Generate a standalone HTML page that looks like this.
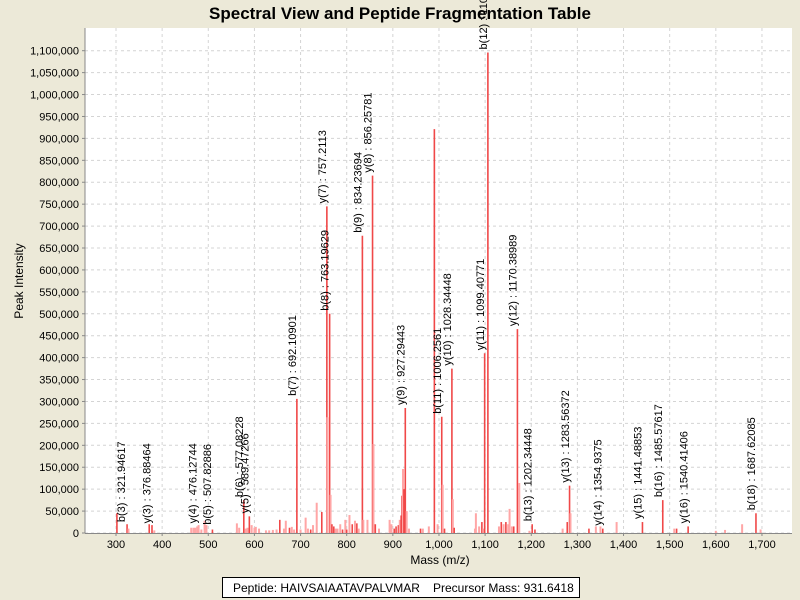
<!DOCTYPE html>
<html><head><meta charset="utf-8"><style>
body{margin:0;background:#ece9d8;}
svg{display:block;font-family:"Liberation Sans",Arial,sans-serif;}
</style></head><body>
<svg id="chart" width="800" height="600">
<rect x="0" y="0" width="800" height="600" fill="#ece9d8"/>
<text x="400" y="19" text-anchor="middle" font-size="17" font-weight="bold">Spectral View and Peptide Fragmentation Table</text>
<rect x="85" y="28" width="707" height="505" fill="#fff"/>
<g id="grid"></g><g id="peaks"></g><g id="axes"></g><g id="labels"></g>
<text transform="translate(23,281) rotate(-90)" text-anchor="middle" font-size="12">Peak Intensity</text>
<text x="440" y="564" text-anchor="middle" font-size="12">Mass (m/z)</text>
<g>
<rect x="222.5" y="577.5" width="357" height="20" fill="#fff" stroke="#000"/>
<text x="233" y="592" font-size="12">Peptide: HAIVSAIAATAVPALVMAR</text>
<text x="433" y="592" font-size="12">Precursor Mass: 931.6418</text>
</g>
</svg>
<script>
const xTicks=[300,400,500,600,700,800,900,1000,1100,1200,1300,1400,1500,1600,1700];
const yTicks=[0,50000,100000,150000,200000,250000,300000,350000,400000,450000,500000,550000,600000,650000,700000,750000,800000,850000,900000,950000,1000000,1050000,1100000];
const peakMz=[302,324,327,372,378,383,463,468,472,476,479,485,492,496,509,562,567,577,581,585,589,594,600,603,610,625,632,640,648,655,664,668,676,681,686,692,700,711,716,722,727,735,746,757,758,763,765,768,772,776,780,786,791,797,800,806,812,818,822,826,834,836,845,856,858,862,870,893,897,903,907,912,915,918,920,922,924,927,930,935,960,965,978,990,997,1006,1008,1012,1028,1030,1033,1078,1080,1087,1093,1096,1099,1106,1130,1135,1140,1145,1150,1153,1158,1162,1170,1174,1196,1202,1208,1268,1278,1283,1285,1325,1340,1350,1355,1385,1441,1485,1510,1515,1540,1600,1620,1657,1687,1697];
const peakInt=[45000,20000,10000,20000,18000,6000,12000,12000,12000,15000,18000,8000,28000,18000,8000,22000,12000,75000,10000,12000,38000,18000,12000,14000,10000,6000,6000,7000,8000,30000,10000,28000,12000,14000,8000,306000,8000,35000,10000,8000,18000,69000,48000,745000,264000,500000,87000,20000,15000,10000,10000,20000,8000,30000,8000,41000,20000,28000,22000,10000,678000,30000,30000,815000,203000,20000,10000,30000,20000,10000,15000,18000,30000,40000,85000,146000,100000,285000,50000,10000,10000,10000,15000,921000,20000,265000,110000,10000,375000,77000,12000,10000,45000,15000,25000,10000,410000,1096000,15000,25000,20000,25000,20000,55000,15000,15000,465000,114000,5000,20000,8000,10000,25000,108000,45000,10000,15000,15000,10000,25000,25000,75000,10000,10000,15000,5000,7000,20000,45000,8000];
const peakLight=[0,0,1,0,0,1,1,1,1,1,1,1,1,1,0,1,1,0,1,1,0,1,1,1,1,1,1,1,1,0,1,1,0,1,1,0,1,1,1,0,1,1,0,0,1,0,1,0,0,1,1,1,0,1,0,1,0,1,0,1,0,1,1,0,1,0,1,1,1,0,0,0,1,0,0,1,0,0,1,1,0,1,1,0,1,0,1,0,0,1,0,1,1,1,0,1,0,0,1,0,1,0,1,1,1,0,0,1,1,0,0,1,0,0,1,0,1,1,0,1,0,0,1,0,0,1,1,1,0,1];
const labelText=["b(3) : 321.94617","y(3) : 376.88464","y(4) : 476.12744","b(5) : 507.82886","b(6) : 577.08228","y(5) : 589.47266","b(7) : 692.10901","y(7) : 757.2113","b(8) : 763.19629","b(9) : 834.23694","y(8) : 856.25781","y(9) : 927.29443","b(11) : 1006.2561","y(10) : 1028.34448","y(11) : 1099.40771","b(12) : 1106.42163","y(12) : 1170.38989","b(13) : 1202.34448","y(13) : 1283.56372","y(14) : 1354.9375","y(15) : 1441.48853","b(16) : 1485.57617","y(16) : 1540.41406","b(18) : 1687.62085"];
const labelMz=[321.9,376.9,476.1,507.8,577.1,589.5,692.1,757.2,763.2,834.2,856.3,927.3,1006.3,1028.3,1099.4,1106.4,1170.4,1202.3,1283.6,1354.9,1441.5,1485.6,1540.4,1687.6];
const labelInt=[18000,15000,15000,12000,75000,38000,306000,745000,500000,678000,815000,285000,265000,375000,410000,1096000,465000,20000,108000,10000,25000,75000,15000,45000];
const NS='http://www.w3.org/2000/svg';
const X0=85,X1=792,Y0=533,Y1=28;
function xs(m){return 116+(m-300)*0.4614;}
function ys(v){return 533-v*(482.3/1100000);}
function mk(tag,attrs,parent){const e=document.createElementNS(NS,tag);for(const k in attrs)e.setAttribute(k,attrs[k]);parent.appendChild(e);return e;}
const grid=document.getElementById('grid'),axes=document.getElementById('axes'),pk=document.getElementById('peaks'),lb=document.getElementById('labels');
xTicks.forEach(t=>{const x=xs(t);
 const g=mk('line',{x1:x,x2:x,y1:Y1,y2:Y0,stroke:'#d4d4d4','stroke-dasharray':'3,3'},grid);
 
 
 const tk=mk('line',{x1:x,x2:x,y1:Y0,y2:Y0+3,stroke:'#888'},axes);
 
 
 const tx=mk('text',{x:x,y:Y0+15,'text-anchor':'middle','font-size':'11'},axes);tx.textContent=t.toLocaleString('en-US');
 
 
});
yTicks.forEach(t=>{const y=ys(t);
 const g=mk('line',{x1:X0,x2:X1,y1:y,y2:y,stroke:'#d4d4d4','stroke-dasharray':'3,3'},grid);
 
 
 const tk=mk('line',{x1:X0-3,x2:X0,y1:y,y2:y,stroke:'#888'},axes);
 
 
 const tx=mk('text',{x:X0-6,y:y+4,'text-anchor':'end','font-size':'11'},axes);tx.textContent=t.toLocaleString('en-US');
 
 
});
const ax=mk('line',{x1:X0,x2:X0,y1:Y1,y2:Y0,stroke:'#888'},axes);


const bx=mk('line',{x1:X0,x2:X1,y1:Y0+0.5,y2:Y0+0.5,stroke:'#888'},axes);


peakMz.forEach((m,i)=>{const x=xs(m);
 const l=mk('line',{x1:x,x2:x,y1:Y0,y2:ys(peakInt[i]),stroke:peakLight[i]?'#ffa6a6':'#f04848','stroke-width':peakLight[i]?2:1.6},pk);
 
 
});
labelMz.forEach((m,i)=>{const x=xs(m)-1,y=ys(labelInt[i])-3;
 const t=mk('text',{transform:`translate(${x},${y}) rotate(-90)`,'font-size':'11'},lb);t.textContent=labelText[i];
 
 
});
</script>
</body></html>
